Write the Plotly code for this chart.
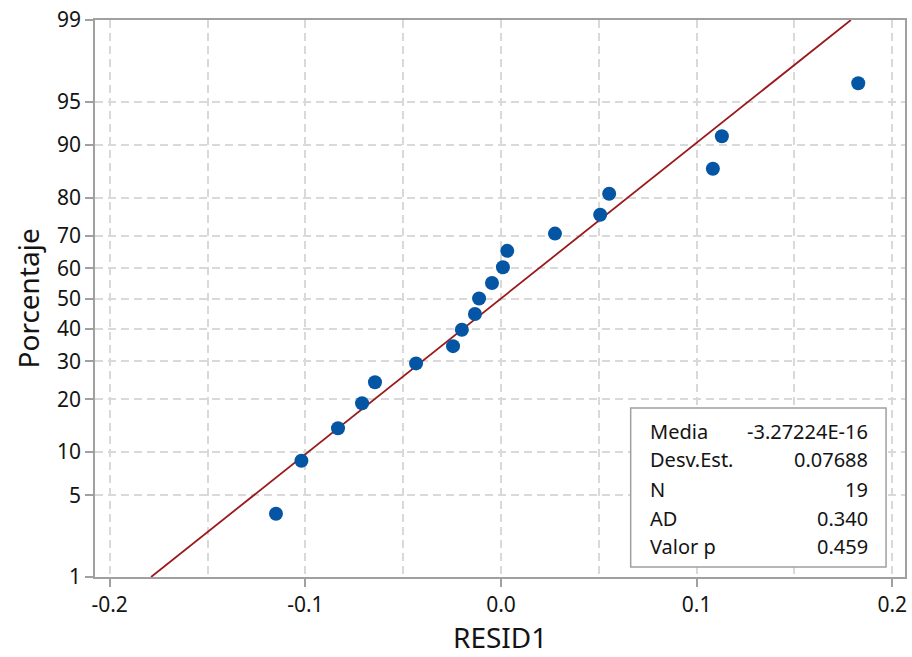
from statistics import NormalDist
import plotly.graph_objects as go

# Residuals (sorted) and their normal-probability plotting positions (%)
resid = [-0.1150, -0.1020, -0.0833, -0.0710, -0.0644, -0.0434, -0.0245,
         -0.0200, -0.0133, -0.0112, -0.0046, 0.0010, 0.0032, 0.0276,
         0.0507, 0.0553, 0.1083, 0.1129, 0.1826]
pct = [3.608, 8.763, 13.918, 19.072, 24.227, 29.381, 34.536, 39.691,
       44.845, 50.0, 55.155, 60.309, 65.464, 70.619, 75.773, 80.928,
       86.082, 91.237, 96.392]

# Summary statistics shown in the box
media = -3.27224e-16
desv = 0.07688
n_obs = 19
ad = 0.340
valor_p = 0.459

stat_labels = ["Media", "Desv.Est.", "N", "AD", "Valor p"]
stat_values = ["-3.27224E-16", "0.07688", "19", "0.340", "0.459"]

# Probability-scale ticks
y_ticks = [1, 5, 10, 20, 30, 40, 50, 60, 70, 80, 90, 95, 99]
x_ticks = [-0.2, -0.1, 0.0, 0.1, 0.2]

nd = NormalDist()
z = lambda p: nd.inv_cdf(p / 100.0)

y_pts = [z(p) for p in pct]
zlo, zhi = z(1), z(99)
line_z = [zlo, zhi]
line_x = [media + desv * v for v in line_z]

FONT = "Noto Sans"
TXT = "#141414"
GRID = "#d9d9d9"
AXIS = "#a0a0a0"

fig = go.Figure()
fig.add_trace(go.Scatter(x=line_x, y=line_z, mode="lines",
                         line=dict(color="#9a1a1c", width=1.8),
                         showlegend=False, hoverinfo="skip"))
fig.add_trace(go.Scatter(x=resid, y=y_pts, mode="markers",
                         marker=dict(color="#0455a4", size=14),
                         showlegend=False))

fig.update_xaxes(
    range=[-0.2075, 0.2065],
    tickvals=x_ticks, ticktext=[f"{v:.1f}" for v in x_ticks],
    ticks="outside", ticklen=8, tickwidth=1.5, tickcolor=AXIS,
    showline=True, linecolor=AXIS, linewidth=1.5, mirror=True,
    showgrid=True, gridcolor=GRID, gridwidth=1.5, griddash="8px,5px",
    minor=dict(dtick=0.05, tick0=0, showgrid=True, gridcolor=GRID,
               gridwidth=1.5, griddash="8px,5px", ticks=""),
    zeroline=False,
    tickfont=dict(family=FONT, size=21, color=TXT),
)
fig.update_yaxes(
    range=[zlo, zhi],
    tickvals=[z(p) for p in y_ticks], ticktext=[str(p) for p in y_ticks],
    ticks="outside", ticklen=8, tickwidth=1.5, tickcolor=AXIS,
    showline=True, linecolor=AXIS, linewidth=1.5, mirror=True,
    showgrid=True, gridcolor=GRID, gridwidth=1.5, griddash="8px,5px",
    zeroline=False,
    tickfont=dict(family=FONT, size=21, color=TXT),
)

annotations = [
    dict(text="Porcentaje", x=0, y=0.5, xref="paper", yref="paper",
         xanchor="center", yanchor="middle", xshift=-68, textangle=-90,
         showarrow=False, font=dict(family=FONT, size=28, color=TXT)),
    dict(text="RESID1", x=0.5, y=0, xref="paper", yref="paper",
         xanchor="center", yanchor="middle", yshift=-60,
         showarrow=False, font=dict(family=FONT, size=28, color=TXT)),
]

# Statistics box (pixel layout inside the plot area)
W, H = 912, 657
L, R, T, B = 95, 5, 17, 80
pw, ph = W - L - R, H - T - B
px = lambda x: (x - L) / pw
py = lambda y: 1 - (y - T) / ph

shapes = [dict(type="rect", xref="paper", yref="paper",
               x0=px(632), x1=px(888), y0=py(567), y1=py(407),
               line=dict(color="#a0a0a0", width=1.5), fillcolor="white",
               layer="above")]

row_y = [431, 459, 489, 518, 546]
for lab, val, yy in zip(stat_labels, stat_values, row_y):
    annotations.append(dict(text=lab, x=px(649), y=py(yy), xref="paper", yref="paper",
                            xanchor="left", yanchor="middle", showarrow=False,
                            font=dict(family=FONT, size=20, color=TXT)))
    annotations.append(dict(text=val, x=px(872), y=py(yy), xref="paper", yref="paper",
                            xanchor="right", yanchor="middle", showarrow=False,
                            font=dict(family=FONT, size=20, color=TXT)))

fig.update_layout(
    width=W, height=H,
    margin=dict(l=L, r=R, t=T, b=B),
    paper_bgcolor="white", plot_bgcolor="white",
    shapes=shapes, annotations=annotations,
)

fig.write_html("out.html")
